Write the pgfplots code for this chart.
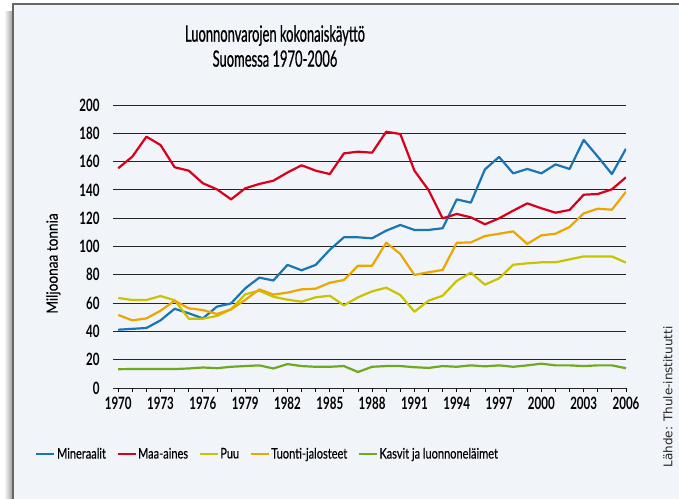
\documentclass[border=0pt]{standalone}
\usepackage{fontspec}
\setmainfont{Lato}[FakeStretch=0.68]
\newfontfamily\titlefont{Lato}[FakeStretch=0.575, FakeBold=0.6]
\newfontfamily\labfont{Lato}[FakeStretch=0.88, FakeBold=0.3]
\newfontfamily\legfont{Lato}[FakeStretch=0.76, FakeBold=0.3]
\newfontfamily\srcfont{DejaVu Sans}
\usepackage{pgfplots}
\pgfplotsset{compat=1.18}

\definecolor{panelbg}{HTML}{F1F4F8}
\definecolor{cMin}{HTML}{1A75B5}
\definecolor{cMaa}{HTML}{D9001B}
\definecolor{cPuu}{HTML}{C9C400}
\definecolor{cTuo}{HTML}{EDA600}
\definecolor{cKas}{HTML}{6EAA1F}

\begin{document}
\begin{tikzpicture}[x=1pt,y=1pt]
\clip (0,0) rectangle (679,498);
% panel with a soft shadow on its left side
\fill[left color=white, right color=black!40] (4,-10) rectangle (13,486);
\fill[panelbg] (13,-10) rectangle (690,494);
\draw[black!60, line width=1.3pt] (13,-10) -- (13,494) -- (690,494);

\node[align=center, font=\titlefont\fontsize{22.5}{25}\selectfont] at (275,452) {Luonnonvarojen kokonaiskäyttö\\Suomessa 1970-2006};
\node[rotate=90, font=\srcfont\fontsize{12}{13}\selectfont, text=black!85] at (668,101) {Lähde: Thule-instituutti};

\begin{axis}[
    at={(113pt,110pt)}, anchor=south west,
    scale only axis,
    width=513pt, height=283pt,
    xmin=1969.63, xmax=2006,
    ymin=0, ymax=200,
    axis line style={draw=none},
    ytick={0,20,...,200},
    xtick={1970,1973,...,2006},
    minor xtick={1970,...,2006},
    xtick pos=bottom,
    tick align=outside,
    major tick length=4pt, minor tick length=4pt,
    xtick style={black, line width=0.8pt},
    minor tick style={black, line width=0.8pt},
    ytick style={draw=none},
    ymajorgrids,
    grid style={black!85, line width=0.9pt},
    /pgf/number format/assume math mode=true,
    /pgf/number format/1000 sep={},
    ticklabel style={font=\bfseries\fontsize{17}{18}\selectfont},
    yticklabel style={xshift=-6pt},
    xticklabel style={yshift=-2pt},
    ylabel={Miljoonaa tonnia},
    ylabel style={font=\labfont\fontsize{15.5}{16}\selectfont, yshift=12pt, xshift=-17pt},
    legend columns=-1,
    legend style={draw=none, fill=none, at={(0.301,-0.233)}, anchor=center,
        font=\legfont\fontsize{14.5}{15}\selectfont,
        nodes={inner xsep=1.5pt},
        /tikz/every even column/.style={column sep=9pt}},
    legend image code/.code={\draw[#1] (0pt,0pt) -- (18pt,0pt);},
    every axis plot/.append style={line width=2.2pt, line join=round},
]
\addplot[cMin] coordinates {(1970,41.2)(1971,41.8)(1972,42.4)(1973,47.8)(1974,56)(1975,52.8)(1976,49.2)(1977,57.5)(1978,59.8)(1979,70.4)(1980,78)(1981,76)(1982,87)(1983,83.2)(1984,87)(1985,97.7)(1986,106.5)(1987,106.5)(1988,105.8)(1989,111.2)(1990,115.2)(1991,111.7)(1992,111.7)(1993,112.9)(1994,133.3)(1995,131)(1996,154.5)(1997,163.3)(1998,151.7)(1999,154.8)(2000,151.7)(2001,158)(2002,154.8)(2003,175.3)(2004,163.5)(2005,151.2)(2006,169.1)};
\addlegendentry{Mineraalit}
\addplot[cMaa] coordinates {(1970,155.3)(1971,163.5)(1972,177.6)(1973,171.7)(1974,156)(1975,153.6)(1976,144.7)(1977,140.4)(1978,133.3)(1979,141.1)(1980,144.2)(1981,146.5)(1982,152.3)(1983,157.4)(1984,153.6)(1985,151.2)(1986,165.8)(1987,167)(1988,166.3)(1989,181.1)(1990,179.5)(1991,153.6)(1992,139.9)(1993,119.9)(1994,123)(1995,120.6)(1996,115.7)(1997,119.9)(1998,125.3)(1999,130.5)(2000,127)(2001,123.9)(2002,125.8)(2003,136.6)(2004,137.1)(2005,140.4)(2006,148.9)};
\addlegendentry{Maa-aines}
\addplot[cPuu] coordinates {(1970,63.6)(1971,62.2)(1972,62.2)(1973,65)(1974,62)(1975,49)(1976,49)(1977,50.9)(1978,55.6)(1979,66.2)(1980,68.8)(1981,64.5)(1982,62.4)(1983,61)(1984,64.1)(1985,65.2)(1986,58.4)(1987,64.1)(1988,68.3)(1989,70.9)(1990,65.7)(1991,53.9)(1992,61.7)(1993,65.2)(1994,75.7)(1995,81.5)(1996,73)(1997,77.5)(1998,87.1)(1999,88.1)(2000,88.8)(2001,88.8)(2002,90.9)(2003,93)(2004,93)(2005,93)(2006,88.6)};
\addlegendentry{Puu}
\addplot[cTuo] coordinates {(1970,51.6)(1971,47.8)(1972,49.2)(1973,54.6)(1974,61.7)(1975,56.3)(1976,55.1)(1977,52.3)(1978,55.6)(1979,62.2)(1980,69.7)(1981,66)(1982,67.4)(1983,69.7)(1984,70.2)(1985,74.4)(1986,76.3)(1987,86.4)(1988,86.4)(1989,102.7)(1990,94.7)(1991,79.9)(1992,81.8)(1993,83.4)(1994,102.6)(1995,102.9)(1996,107.4)(1997,109)(1998,110.7)(1999,101.8)(2000,107.9)(2001,109)(2002,113.8)(2003,123.4)(2004,126.7)(2005,126)(2006,138.7)};
\addlegendentry{Tuonti-jalosteet}
\addplot[cKas] coordinates {(1970,13.3)(1971,13.4)(1972,13.4)(1973,13.4)(1974,13.4)(1975,13.8)(1976,14.5)(1977,14)(1978,15)(1979,15.5)(1980,16)(1981,13.8)(1982,16.9)(1983,15.5)(1984,15)(1985,15)(1986,15.5)(1987,11.3)(1988,15)(1989,15.5)(1990,15.5)(1991,14.7)(1992,14.2)(1993,15.5)(1994,15)(1995,16)(1996,15.3)(1997,16)(1998,15)(1999,16)(2000,17.2)(2001,16)(2002,16)(2003,15.5)(2004,16)(2005,16)(2006,14)};
\addlegendentry{Kasvit ja luonnoneläimet}
\end{axis}
\end{tikzpicture}
\end{document}
